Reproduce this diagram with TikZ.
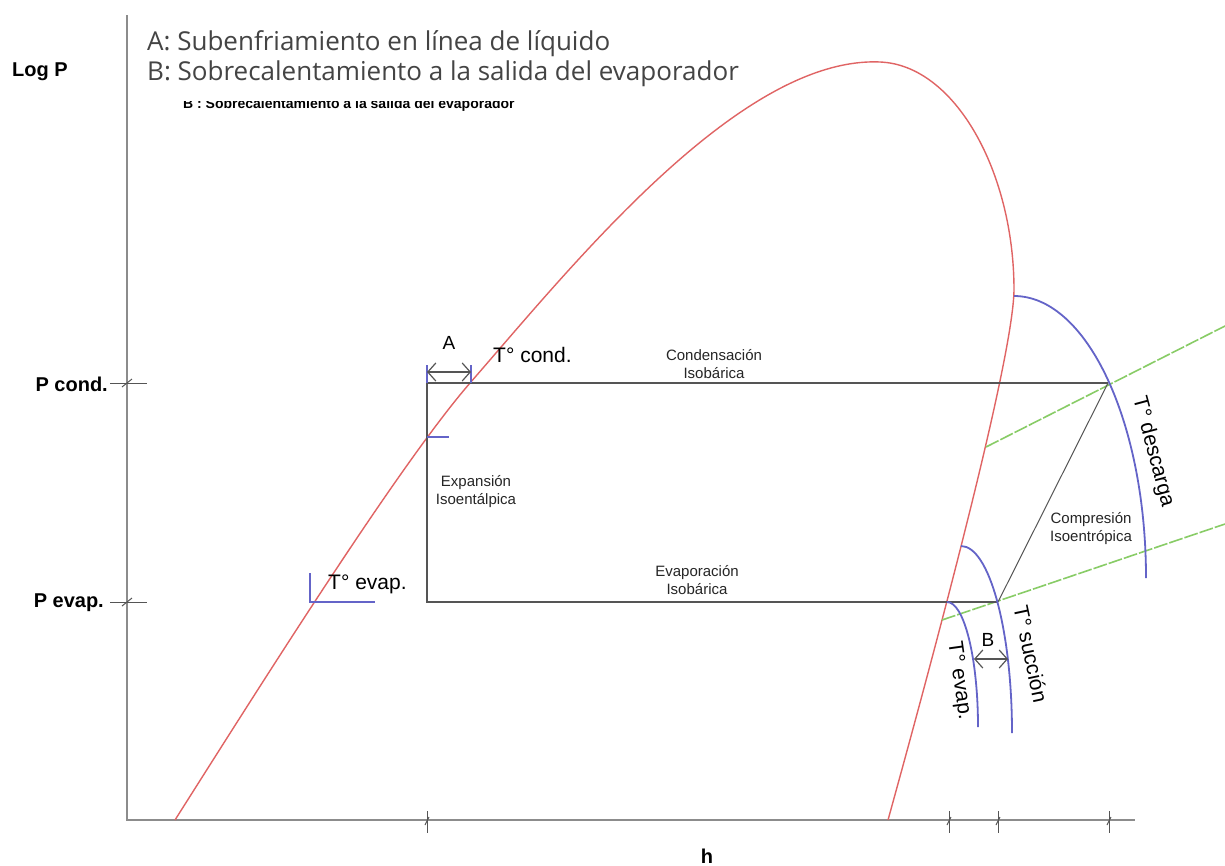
\documentclass[tikz,border=0pt]{standalone}
\usepackage{fontspec}
\setmainfont{Liberation Sans}
\newfontfamily\legendfont{Open Sans}
\usetikzlibrary{arrows.meta}
\definecolor{domered}{HTML}{E06464}
\definecolor{isoblue}{HTML}{6464C8}
\definecolor{isogreen}{HTML}{88CC66}
\definecolor{cyclegray}{HTML}{555555}
\definecolor{axisgray}{HTML}{8C8C8C}
\definecolor{legendgray}{HTML}{444444}
\begin{document}
\begin{tikzpicture}[x=1pt,y=-1pt,
  dome/.style={draw=domered,line width=1.4pt},
  iso/.style={draw=isoblue,line width=1.8pt},
  ent/.style={draw=isogreen,line width=1.6pt,dash pattern=on 14pt off 2pt},
  cycle/.style={draw=cyclegray,line width=2pt},
  axisline/.style={draw=axisgray,line width=2.2pt},
  tickline/.style={draw=cyclegray,line width=1pt},
  dimarrow/.style={draw=cyclegray,line width=1.2pt,{Straight Barb[length=8pt,width=18pt]}-{Straight Barb[length=8pt,width=18pt]}},
  biglbl/.style={font=\fontsize{21}{24}\selectfont,inner sep=0pt},
  axlbl/.style={font=\bfseries\fontsize{20}{24}\selectfont,inner sep=0pt},
  smalllbl/.style={font=\fontsize{15}{18}\selectfont,align=center,inner sep=0pt,text=black!85},
  legend/.style={font=\legendfont\fontsize{26}{28}\selectfont,text=legendgray,inner sep=0pt,anchor=west}
]
\useasboundingbox (0,0) rectangle (1225,865);
\fill[white] (0,0) rectangle (1225,865);

% remnant of an older legend, mostly covered
\node[font=\bfseries\fontsize{14}{16}\selectfont,anchor=base west,inner sep=0pt] (oldB) at (183,108) {B : Sobrecalentamiento a la salida del evaporador};
\fill[white] (140,20) rectangle (770,101);

% axes
\coordinate (o) at (127,820);
\coordinate (ytop) at (127,15);
\coordinate (xend) at (1135,820);
\draw[axisline] (ytop) -- (o) -- (xend);

% y ticks
\foreach \yy/\nm in {383/pc,602/pe}{
  \coordinate (\nm l) at (110,\yy);
  \coordinate (\nm r) at (147,\yy);
  \draw[tickline] (\nm l) -- (\nm r);
  \draw[tickline] (122,\yy+4) -- (132,\yy-4);
}
% x ticks
\foreach \xx/\nm in {427/h1,949/h2,998/h3,1109/h4}{
  \coordinate (\nm t) at (\xx,811);
  \coordinate (\nm b) at (\xx,833);
  \draw[tickline] (\nm t) -- (\nm b);
  \draw[tickline] (\xx-2,825) -- (\xx+2,817);
}

% axis labels
\node[axlbl] (logp) at (40,72) {Log P};
\node[axlbl,anchor=east] (pcond) at (108,384) {P cond.};
\node[axlbl,anchor=east] (pevap) at (104,603) {P evap.};
\node[axlbl] (hlbl) at (707,856) {h};

% saturation dome
\coordinate (d0) at (175,820);
\coordinate (d1) at (470,383);
\coordinate (d2) at (880,62);
\coordinate (d3) at (1014,290);
\coordinate (d4) at (888,820);
\draw[dome] (d0) .. controls (270,670) and (400,464) .. (d1)
  .. controls (572,266) and (740,56) .. (d2)
  .. controls (955,65) and (1014,172) .. (d3)
  .. controls (1013,360) and (935,650) .. (d4);

% isentropic lines
\coordinate (g1s) at (986,447);
\coordinate (g1e) at (1225,326);
\coordinate (g2s) at (942,620);
\coordinate (g2e) at (1225,524);
\draw[ent] (g1s) -- (g1e);
\draw[ent] (g2s) -- (g2e);

% cycle
\coordinate (c1) at (427,383);
\coordinate (c2) at (1108,383);
\coordinate (c3) at (998,602);
\coordinate (c4) at (427,602);
\draw[cycle] (c3) -- (c4) -- (c1) -- (c2);
\draw[cyclegray,line width=1pt] (c2) -- (c3);

% isotherms
\coordinate (dstart) at (1014,296);
\coordinate (sstart) at (961,546);
\coordinate (estart) at (947,602);
\draw[iso] (dstart) arc[start angle=90,end angle=0,x radius=132pt,y radius=282pt];
\draw[iso] (sstart) arc[start angle=90,end angle=0,x radius=51pt,y radius=187pt];
\draw[iso] (estart) arc[start angle=90,end angle=0,x radius=31pt,y radius=125pt];

% subcooling marks A
\coordinate (a1b) at (427,383); \coordinate (a1t) at (427,365);
\coordinate (a2b) at (471,383); \coordinate (a2t) at (471,365);
\draw[iso,line width=1.4pt] (a1t) -- (a1b);
\draw[iso,line width=1.4pt] (a2t) -- (a2b);
\coordinate (aL) at (427,372); \coordinate (aR) at (471,372);
\draw[dimarrow] (aL) -- (aR);
\node[font=\fontsize{19}{22}\selectfont,inner sep=0pt] (Alb) at (449,343) {A};
\coordinate (m1) at (427,437); \coordinate (m2) at (449,437);
\draw[iso,line width=1.4pt] (m1) -- (m2);

% T evap mark
\coordinate (te0) at (310,602); \coordinate (te1) at (310,573); \coordinate (te2) at (375,602);
\draw[iso,line width=1.4pt] (te1) -- (te0) -- (te2);

% B
\coordinate (bL) at (974,659); \coordinate (bR) at (1008,659);
\draw[dimarrow] (bL) -- (bR);
\node[font=\fontsize{19}{22}\selectfont,inner sep=0pt] (Blb) at (988,640) {B};

% labels
\node[biglbl,anchor=west] (tcond) at (493,355) {T° cond.};
\node[biglbl,anchor=west] (tevap) at (328,584) {T° evap.};
\node[biglbl,rotate=-75] (tdesc) at (1153,452) {T° descarga};
\node[biglbl,rotate=-78] (tsuc) at (1031,654) {T° succión};
\node[biglbl,rotate=-82] (tev2) at (959,681) {T° evap.};

\node[smalllbl] (cond) at (714,364) {Condensación\\Isobárica};
\node[smalllbl] (evap) at (697,580) {Evaporación\\Isobárica};
\node[smalllbl] (expn) at (476,492) {Expansión\\Isoentálpica};
\node[smalllbl] (comp) at (1091,529) {Compresión\\Isoentrópica};

% legend
\node[legend] (legA) at (147,44) {A: Subenfriamiento en línea de líquido};
\node[legend] (legB) at (147,74) {B: Sobrecalentamiento a la salida del evaporador};
\end{tikzpicture}
\end{document}
